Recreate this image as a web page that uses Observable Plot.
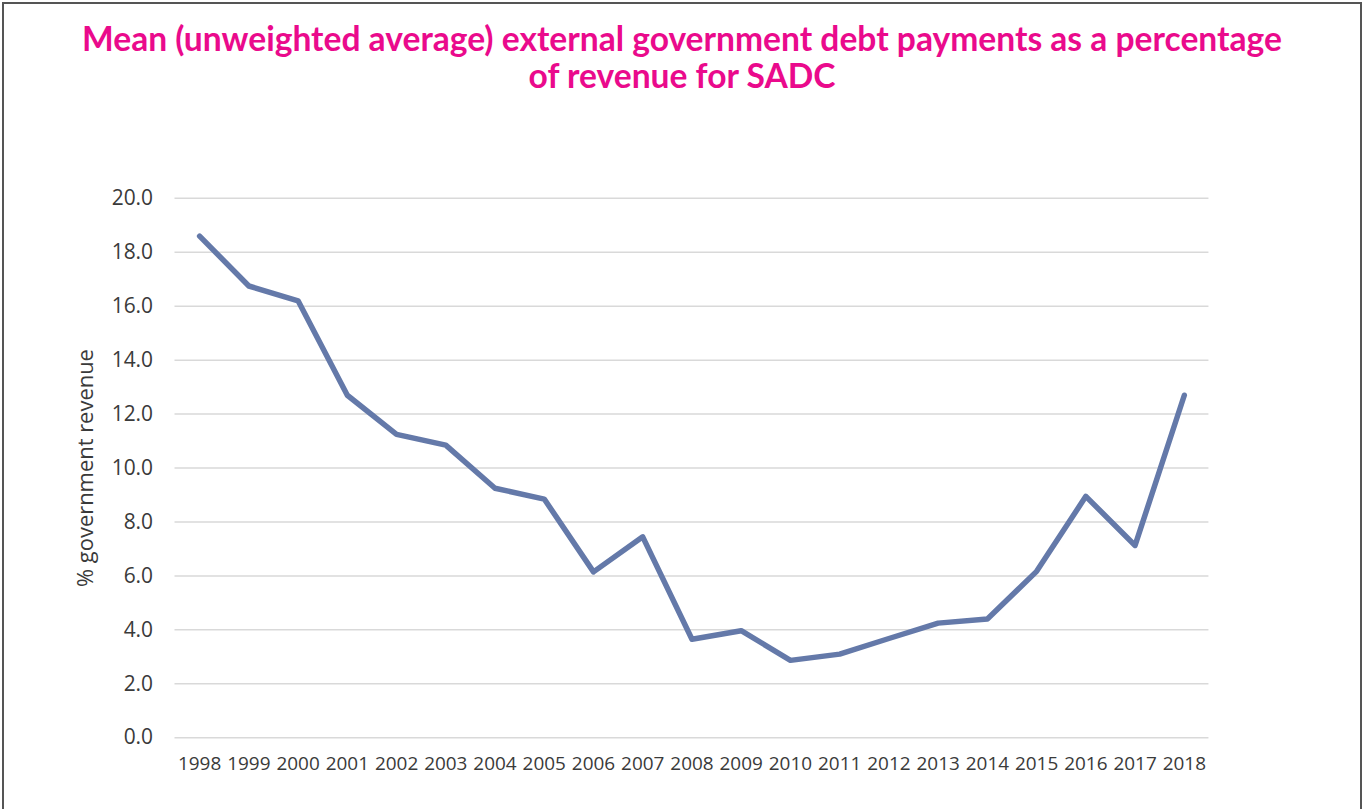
<!DOCTYPE html>
<html>
<head>
<meta charset="utf-8">
<script src="https://cdn.jsdelivr.net/npm/d3@7"></script>
<script src="https://cdn.jsdelivr.net/npm/@observablehq/plot@0.6"></script>
<style>
  html, body { margin: 0; padding: 0; background: #fff; }
  #frame {
    position: relative; width: 1360px; height: 807px;
    margin-left: 2px; margin-top: 2px;
    border-left: 2px solid #555; border-top: 2px solid #555; border-right: 2px solid #555;
    box-sizing: border-box; overflow: hidden;
  }
  #title {
    position: absolute; left: 0; top: 16px; width: 1356px; text-align: center;
    font-family: Lato, sans-serif; font-weight: 700; font-size: 33.6px; line-height: 37px;
    color: #EA0A8C;
  }
  #chart { position: absolute; left: -4px; top: 142px; }
</style>
</head>
<body>
<div id="frame">
  <div id="title">Mean (unweighted average) external government debt payments as a percentage<br>of revenue for SADC</div>
  <div id="chart"></div>
</div>
<script>
const years = ["1998","1999","2000","2001","2002","2003","2004","2005","2006","2007","2008","2009","2010","2011","2012","2013","2014","2015","2016","2017","2018"];
const values = [18.6, 16.75, 16.2, 12.7, 11.25, 10.85, 9.25, 8.85, 6.15, 7.45, 3.65, 3.97, 2.87, 3.1, 3.68, 4.25, 4.4, 6.17, 8.95, 7.13, 12.7];
const yTicks = [0, 2, 4, 6, 8, 10, 12, 14, 16, 18, 20];
const yLabel = "% government revenue";

const data = years.map((year, i) => ({year, value: values[i]}));

const chart = Plot.plot({
  width: 1364,
  height: 653,
  marginTop: 52,
  marginBottom: 60,
  marginLeft: 175,
  marginRight: 152,
  style: {fontFamily: "'Open Sans', sans-serif", color: "#3a3a3a", background: "transparent"},
  x: {type: "point", domain: years, padding: 0.5, round: false},
  y: {domain: [0, 20], ticks: yTicks},
  marks: [
    Plot.ruleY(yTicks, {stroke: "#d9d9d9", strokeWidth: 1.5}),
    Plot.axisY({ticks: yTicks, tickFormat: d3.format(".1f"), tickSize: 0, tickPadding: 22, fontSize: 21, label: null}),
    Plot.axisX({tickSize: 0, tickPadding: 19, fontSize: 19, label: null}),
    Plot.text([yLabel], {frameAnchor: "left", textAnchor: "middle", rotate: -90, dx: -89, fontSize: 22, fill: "#3a3a3a"}),
    Plot.line(data, {x: "year", y: "value", stroke: "#6479A9", strokeWidth: 5.5, strokeLinejoin: "round", strokeLinecap: "round"})
  ]
});
document.getElementById("chart").append(chart);
</script>
</body>
</html>
